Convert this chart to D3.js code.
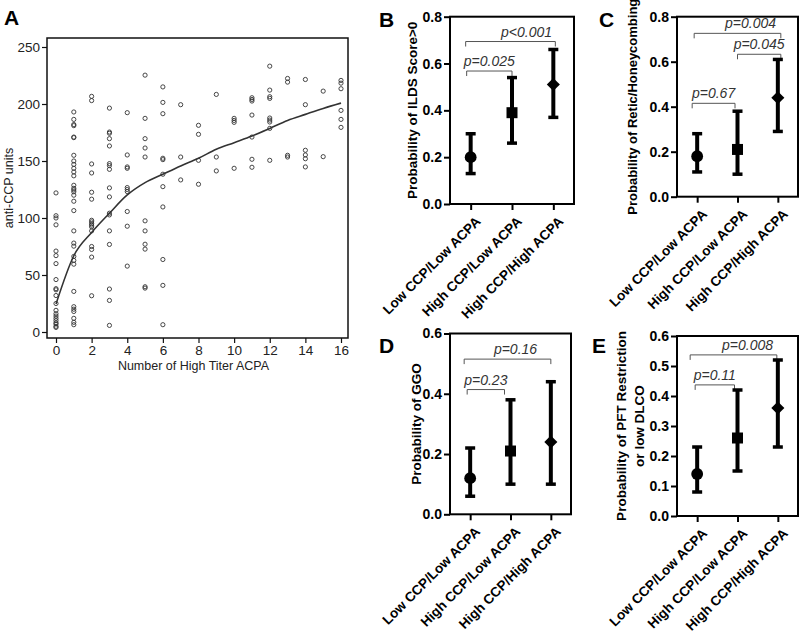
<!DOCTYPE html>
<html><head><meta charset="utf-8">
<script src="https://cdn.jsdelivr.net/npm/d3@7"></script>
<style>body{margin:0;background:#fff}svg{display:block}text{font-family:"Liberation Sans",Arial,sans-serif}</style>
</head><body><svg id="c" width="800" height="634"></svg>
<script>
// ---------- Panel A data ----------
const acpaTicks = [0, 2, 4, 6, 8, 10, 12, 14, 16];
const ccpTicks = [0, 50, 100, 150, 200, 250];
// anti-CCP values observed for each number of high titer ACPA (index = count)
const ccpByAcpaCount = [
  [122,102,100,94,71,67,60,46,38,37,32,25,19,16,14,12,10,8,7,5,4],
  [193,186.5,182,181,171,170.5,155,150,147,143.6,140.4,137,128.7,126,124.6,123,120,114.7,106.5,88.7,78,75.3,66.3,62.8,59.5,35.6,22.2,20,18,12,8.5,6.4],
  [206.7,203,147.4,139.5,122.6,116.5,98,96.6,95,93.7,92.2,88.7,75,72.4,65.7,31.8],
  [196.4,175.4,174.3,169.6,163.2,147.7,146,142.7,126.4,118.5,104.2,102.7,88.7,76.8,37.7,27.7,5.8],
  [192.4,155.3,144.8,143.6,126.7,125,123.2,105.7,92.8,57.8],
  [225.3,187.4,169.6,161.4,153.5,97.5,88.7,77,72.7,39.7,38.5],
  [215,201.4,191.5,152.4,151.2,138.4,127.5,109.7,63.6,40.9,6.4],
  [199.4,153.5,133.4],
  [181.3,173.4,150.6,129.6],
  [208.4,153.5,141.3],
  [187.4,185.6,183.9,143.6],
  [205.5,204,202.6,190.3,171,151.5,144.5],
  [233.2,212.2,206.4,204.9,187.7,185.9,184.2,178.6,150.6],
  [222.4,219.2,155,153.5],
  [221.5,199.4,159.4,155.3,152,144.8],
  [211.3,153.8],
  [220.7,218.3,213.4,194.4,186.5,179.5]
];
const fitAcpa = [0,1,2,3,4,5,6,7,8,9,10,11,12,13,14,15,16];
const fitCcp = [24.5,66.9,87.3,104.2,120.2,131,138.4,145.7,152.4,160.3,166.1,171.9,178.6,185.6,190.9,196.1,200.8];

// ---------- Panels B-E data ----------
const groups = ["Low CCP/Low ACPA", "High CCP/Low ACPA", "High CCP/High ACPA"];
const ticks08 = [0, 0.2, 0.4, 0.6, 0.8];
const ticks06 = [0, 0.2, 0.4, 0.6];
const ticks06fine = [0, 0.1, 0.2, 0.3, 0.4, 0.5, 0.6];

const ildsProb = [0.20, 0.39, 0.51];
const ildsLow  = [0.13, 0.26, 0.37];
const ildsHigh = [0.30, 0.54, 0.66];

const reticProb = [0.18, 0.21, 0.44];
const reticLow  = [0.11, 0.10, 0.29];
const reticHigh = [0.28, 0.38, 0.61];

const ggoProb = [0.12, 0.21, 0.24];
const ggoLow  = [0.06, 0.10, 0.10];
const ggoHigh = [0.22, 0.38, 0.44];

const pftProb = [0.14, 0.26, 0.36];
const pftLow  = [0.08, 0.15, 0.23];
const pftHigh = [0.23, 0.42, 0.52];

const pB = [["p=0.025", 0, 1], ["p<0.001", 0, 2]];
const pC = [["p=0.67", 0, 1], ["p=0.045", 1, 2], ["p=0.004", 0, 2]];
const pD = [["p=0.23", 0, 1], ["p=0.16", 0, 2]];
const pE = [["p=0.11", 0, 1], ["p=0.008", 0, 2]];

const svg = d3.select("#c");
const FONT = '"Liberation Sans", Arial, sans-serif';

// ================= Panel A =================
(function(){
  const L = 47, R = 348, T = 38, B = 338;
  const x = d3.scaleLinear().domain([0, 16]).range([56, 341]);
  const y = d3.scaleLinear().domain([0, 250]).range([332, 47]);
  const g = svg.append("g");
  g.append("text").attr("x", 4).attr("y", 25).attr("font-size", 21).attr("font-weight", "bold").text("A");
  g.append("rect").attr("x", L).attr("y", T).attr("width", R - L).attr("height", B - T)
    .attr("fill", "none").attr("stroke", "#111").attr("stroke-width", 1.5);

  const ya = g.append("g").attr("transform", `translate(${L},0)`)
    .call(d3.axisLeft(y).tickValues(ccpTicks).tickSize(5).tickPadding(2));
  const xa = g.append("g").attr("transform", `translate(0,${B})`)
    .call(d3.axisBottom(x).tickValues(acpaTicks).tickSize(5).tickPadding(2));
  [ya, xa].forEach(a => {
    a.select(".domain").remove();
    a.selectAll("line").attr("stroke", "#111").attr("stroke-width", 1.2);
    a.selectAll("text").attr("font-size", 13.5).attr("fill", "#222").attr("font-family", FONT);
  });

  const pts = [];
  ccpByAcpaCount.forEach((vals, k) => vals.forEach(v => pts.push([k, v])));
  g.append("g").selectAll("circle").data(pts).join("circle")
    .attr("cx", d => x(d[0])).attr("cy", d => y(d[1])).attr("r", 2.1)
    .attr("fill", "none").attr("stroke", "#333").attr("stroke-width", 0.9);

  g.append("path").datum(fitAcpa.map((a, i) => [a, fitCcp[i]]))
    .attr("d", d3.line().x(d => x(d[0])).y(d => y(d[1])).curve(d3.curveMonotoneX))
    .attr("fill", "none").attr("stroke", "#333").attr("stroke-width", 1.6);

  g.append("text").attr("x", (L + R) / 2 - 4).attr("y", 370).attr("text-anchor", "middle")
    .attr("font-size", 12.5).attr("fill", "#222").text("Number of High Titer ACPA");
  g.append("text").attr("transform", `translate(13,${(T + B) / 2}) rotate(-90)`)
    .attr("text-anchor", "middle").attr("font-size", 12.5).attr("fill", "#222").text("anti-CCP units");
})();

// ================= Panels B-E =================
function panel(cfg) {
  const g = svg.append("g");
  const y = d3.scaleLinear().domain([0, cfg.max]).range([cfg.yb, cfg.yt]);
  const x = d3.scalePoint().domain(groups).range([cfg.x0, cfg.x1]).padding(0.5);

  g.append("text").attr("x", cfg.lx).attr("y", cfg.ly).attr("font-size", 21)
    .attr("font-weight", "bold").text(cfg.letter);

  // brackets
  cfg.brackets.forEach((b, i) => {
    const xa = x(groups[b[1]]) + cfg.bOff[i][0];
    const xb = x(groups[b[2]]) + cfg.bOff[i][1];
    const yy = y(cfg.bY[i]);
    g.append("path").attr("d", `M${xa},${yy + 5}V${yy}H${xb}V${yy + 5}`)
      .attr("fill", "none").attr("stroke", "#555").attr("stroke-width", 1);
    g.append("text").attr("x", (xa + xb) / 2 + cfg.tOff[i]).attr("y", yy - 5)
      .attr("text-anchor", "middle").attr("font-size", 14).attr("font-style", "italic")
      .attr("fill", "#333").text(b[0]);
  });

  g.append("rect").attr("x", cfg.x0).attr("y", cfg.yt).attr("width", cfg.x1 - cfg.x0)
    .attr("height", cfg.yb - cfg.yt).attr("fill", "none").attr("stroke", "#000").attr("stroke-width", 2);

  const ya = g.append("g").attr("transform", `translate(${cfg.x0},0)`)
    .call(d3.axisLeft(y).tickValues(cfg.ticks).tickSize(6).tickPadding(2).tickFormat(d3.format(".1f")));
  ya.select(".domain").remove();
  ya.selectAll("line").attr("stroke", "#000").attr("stroke-width", 2);
  ya.selectAll("text").attr("font-size", 14).attr("font-weight", "bold").attr("fill", "#000").attr("font-family", FONT);

  const xa = g.append("g").attr("transform", `translate(0,${cfg.yb})`)
    .call(d3.axisBottom(x).tickSize(6).tickPadding(0));
  xa.select(".domain").remove();
  xa.selectAll("line").attr("stroke", "#000").attr("stroke-width", 2);
  xa.selectAll("text").attr("font-size", 13.6).attr("font-weight", "bold").attr("fill", "#000")
    .attr("font-family", FONT).attr("text-anchor", "end").attr("dy", null)
    .attr("transform", "translate(6,14) rotate(-45)");

  // error bars
  groups.forEach((gr, i) => {
    const cx = x(gr);
    g.append("line").attr("x1", cx).attr("x2", cx).attr("y1", y(cfg.lo[i])).attr("y2", y(cfg.hi[i]))
      .attr("stroke", "#000").attr("stroke-width", 4);
    [cfg.lo[i], cfg.hi[i]].forEach(v => g.append("line").attr("x1", cx - 5).attr("x2", cx + 5)
      .attr("y1", y(v)).attr("y2", y(v)).attr("stroke", "#000").attr("stroke-width", 3.5));
  });
  const sym = [
    d3.symbol().type(d3.symbolCircle).size(110),
    d3.symbol().type(d3.symbolSquare).size(121),
    d3.symbol().type(d3.symbolSquare).size(85)
  ];
  groups.forEach((gr, i) => {
    g.append("path").attr("d", sym[i]())
      .attr("transform", `translate(${x(gr)},${y(cfg.p[i])})${i === 2 ? " rotate(45)" : ""}`)
      .attr("fill", "#000");
  });

  const lab = g.append("text").attr("font-size", cfg.labSize || 13.5).attr("font-weight", "bold")
    .attr("text-anchor", "middle").attr("transform", `translate(${cfg.labx},${(cfg.yt + cfg.yb) / 2}) rotate(-90)`);
  cfg.label.forEach((t, i) => lab.append("tspan").attr("x", 0).attr("dy", i === 0 ? 0 : 17.5).text(t));
}

panel({letter: "B", lx: 379, ly: 27, x0: 450, x1: 574, yt: 16.7, yb: 204, max: 0.8, ticks: ticks08,
  p: ildsProb, lo: ildsLow, hi: ildsHigh, brackets: pB, bY: [0.568, 0.694],
  bOff: [[-4, 0], [-5, 2]], tOff: [0, 16], label: ["Probability of ILDS Score>0"], labx: 417});
panel({letter: "C", lx: 599, ly: 27, x0: 677, x1: 798, yt: 16.7, yb: 196.7, max: 0.8, ticks: ticks08,
  p: reticProb, lo: reticLow, hi: reticHigh, brackets: pC, bY: [0.415, 0.633, 0.726],
  bOff: [[-5, -2.5], [0, 3], [-3, 3]], tOff: [0, 0, 13], label: ["Probability of Retic/Honeycombing"], labx: 637, labSize: 13});
panel({letter: "D", lx: 379, ly: 353, x0: 450, x1: 571, yt: 333.5, yb: 514.3, max: 0.6, ticks: ticks06,
  p: ggoProb, lo: ggoLow, hi: ggoHigh, brackets: pD, bY: [0.414, 0.515],
  bOff: [[-3, -6], [-6, 0]], tOff: [0, 8], label: ["Probability of GGO"], labx: 421});
panel({letter: "E", lx: 592, ly: 353, x0: 677, x1: 798, yt: 336, yb: 516, max: 0.6, ticks: ticks06fine,
  p: pftProb, lo: pftLow, hi: pftHigh, brackets: pE, bY: [0.437, 0.537],
  bOff: [[-2, -3], [-7, -1]], tOff: [0, 14], label: ["Probability of PFT Restriction", "or low DLCO"], labx: 626});
</script></body></html>
